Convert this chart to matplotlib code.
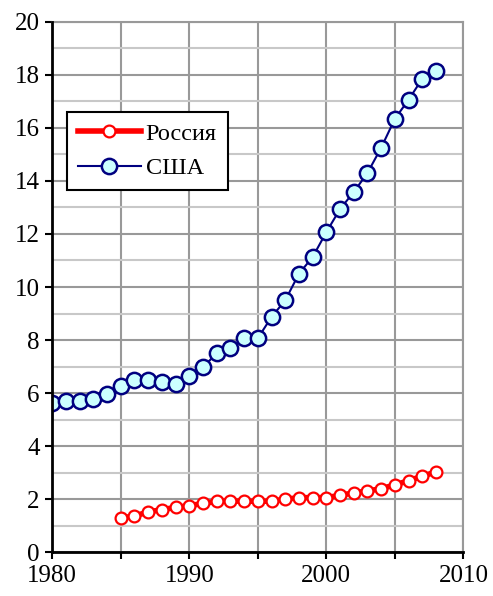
import matplotlib
matplotlib.use("Agg")
import matplotlib.pyplot as plt
from matplotlib.ticker import MultipleLocator

years_usa = list(range(1980, 2009))
usa = [5.62, 5.70, 5.70, 5.77, 5.96, 6.26, 6.49, 6.49, 6.42, 6.34,
       6.64, 6.98, 7.50, 7.70, 8.07, 8.07, 8.87, 9.50, 10.50, 11.13,
       12.07, 12.94, 13.58, 14.30, 15.25, 16.34, 17.06, 17.85, 18.15]
years_rus = list(range(1985, 2009))
russia = [1.29, 1.37, 1.52, 1.61, 1.69, 1.76, 1.84, 1.92, 1.93, 1.93,
          1.92, 1.93, 2.00, 2.06, 2.06, 2.06, 2.15, 2.24, 2.31, 2.40,
          2.54, 2.70, 2.87, 3.03]
labels = ["Россия", "США"]

plt.rcParams['font.family'] = 'serif'
plt.rcParams['font.serif'] = ['Liberation Serif', 'DejaVu Serif']

fig = plt.figure(figsize=(4.93, 5.96), dpi=100)
ax = fig.add_axes([0.106, 0.0733, 0.834, 0.8903])

ax.plot(years_rus, russia, color='#FF0000', lw=4, marker='o', ms=8.5,
        mfc='white', mec='#FF0000', mew=1.6, label=labels[0], zorder=3)
ax.plot(years_usa, usa, color='#000080', lw=1.5, marker='o', ms=11,
        mfc='#CCFFFF', mec='#000080', mew=1.8, label=labels[1], zorder=4)

ax.set_xlim(1980, 2010)
ax.set_ylim(0, 20)
ax.xaxis.set_major_locator(MultipleLocator(10))
ax.xaxis.set_minor_locator(MultipleLocator(5))
ax.yaxis.set_major_locator(MultipleLocator(2))
ax.yaxis.set_minor_locator(MultipleLocator(1))

ax.grid(which='major', axis='both', color='#999999', lw=1.5, zorder=0)
ax.grid(which='minor', axis='x', color='#999999', lw=1.5, zorder=0)
ax.grid(which='minor', axis='y', color='#C8C8C8', lw=1.5, zorder=0)
ax.set_axisbelow(True)

for s in ['top', 'right']:
    ax.spines[s].set_color('#999999')
    ax.spines[s].set_linewidth(1.5)
for s in ['left', 'bottom']:
    ax.spines[s].set_color('black')
    ax.spines[s].set_linewidth(2)
    ax.spines[s].set_zorder(5)

ax.tick_params(axis='both', which='major', direction='out', length=5, width=1.5,
               labelsize=18, colors='black', pad=4)
ax.tick_params(axis='x', which='minor', direction='out', length=5, width=1.5)
ax.tick_params(axis='y', which='minor', length=0)
for lab in ax.get_xticklabels() + ax.get_yticklabels():
    lab.set_fontfamily('Liberation Serif')

leg = ax.legend(loc='upper left', bbox_to_anchor=(0.035, 0.830),
                prop={'family': 'Liberation Serif', 'size': 17.5},
                frameon=True, fancybox=False, edgecolor='black', framealpha=1,
                handlelength=2.6, borderpad=0.45, labelspacing=0.5,
                handletextpad=0.2, borderaxespad=0)
leg.get_frame().set_linewidth(1.5)

fig.savefig('out.png', dpi=100)
